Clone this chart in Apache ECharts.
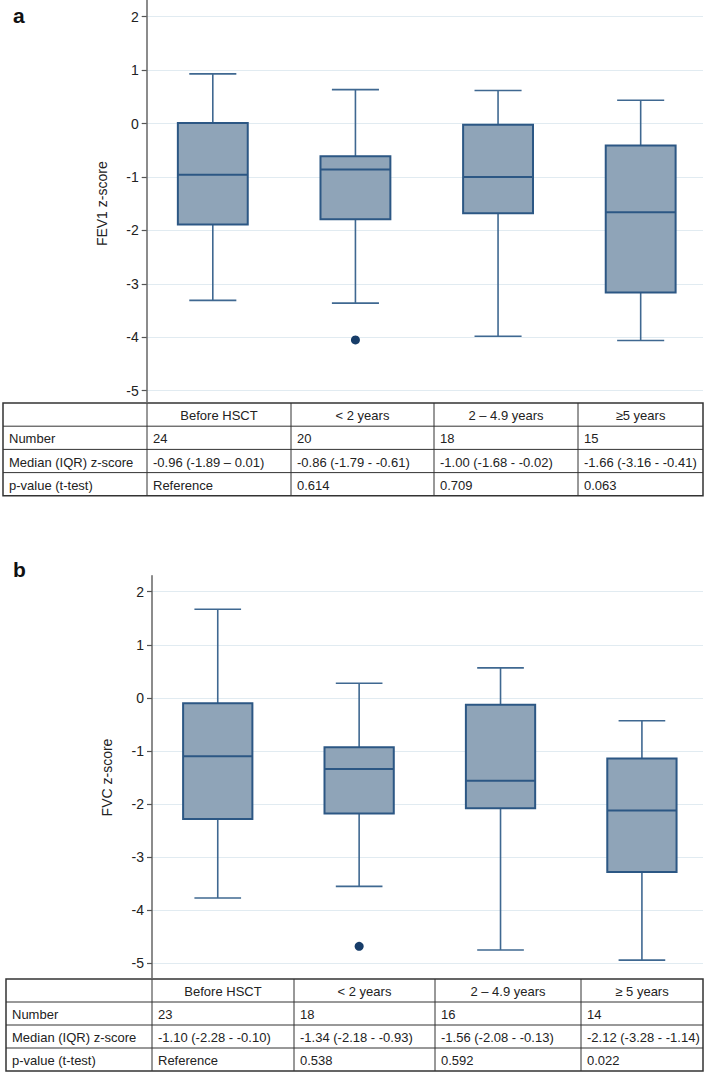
<!DOCTYPE html>
<html>
<head>
<meta charset="utf-8">
<script src="https://cdn.jsdelivr.net/npm/echarts@6/dist/echarts.min.js"></script>
<style>
html,body{margin:0;padding:0;background:#fff;}
#chart{width:704px;height:1077px;}
</style>
</head>
<body>
<div id="chart"></div>
<script>
// ---------- data ----------
const categories = ['Before HSCT', '< 2 years', '2 – 4.9 years', '≥5 years'];
const categoriesB = ['Before HSCT', '< 2 years', '2 – 4.9 years', '≥ 5 years'];
const yTicks = [-5, -4, -3, -2, -1, 0, 1, 2];

const fev1Min    = [-3.31, -3.36, -3.98, -4.06];
const fev1Q1     = [-1.89, -1.79, -1.68, -3.16];
const fev1Median = [-0.96, -0.86, -1.00, -1.66];
const fev1Q3     = [0.01, -0.61, -0.02, -0.41];
const fev1Max    = [0.93, 0.635, 0.62, 0.435];
const fev1Outliers = [[2, -4.05]];

const fvcMin    = [-3.77, -3.55, -4.75, -4.94];
const fvcQ1     = [-2.28, -2.18, -2.08, -3.28];
const fvcMedian = [-1.10, -1.34, -1.56, -2.12];
const fvcQ3     = [-0.10, -0.93, -0.13, -1.14];
const fvcMax    = [1.67, 0.275, 0.565, -0.43];
const fvcOutliers = [[2, -4.68]];

const tableARows = [
  ['Number', '24', '20', '18', '15'],
  ['Median (IQR) z-score', '-0.96 (-1.89 – 0.01)', '-0.86 (-1.79 - -0.61)', '-1.00 (-1.68 - -0.02)', '-1.66 (-3.16 - -0.41)'],
  ['p-value (t-test)', 'Reference', '0.614', '0.709', '0.063']
];
const tableBRows = [
  ['Number', '23', '18', '16', '14'],
  ['Median (IQR) z-score', '-1.10 (-2.28 - -0.10)', '-1.34 (-2.18 - -0.93)', '-1.56 (-2.08 - -0.13)', '-2.12 (-3.28 - -1.14)'],
  ['p-value (t-test)', 'Reference', '0.538', '0.592', '0.022']
];

// ---------- styles ----------
const FONT = "'Liberation Sans', Arial, Helvetica, sans-serif";
const BOX_FILL = '#8fa4b8';
const BOX_STROKE = '#2c5784';
const WHISKER = '#3f6891';
const OUTLIER = '#173d69';

function boxData(mn, q1, md, q3, mx) {
  return mn.map((v, i) => [i + 1, v, q1[i], md[i], q3[i], mx[i]]);
}

function renderBox(params, api) {
  const x = api.value(0);
  const pMin = api.coord([x, api.value(1)]);
  const pQ1 = api.coord([x, api.value(2)]);
  const pMed = api.coord([x, api.value(3)]);
  const pQ3 = api.coord([x, api.value(4)]);
  const pMax = api.coord([x, api.value(5)]);
  const boxW = api.size([0.49, 0])[0];
  const capW = api.size([0.33, 0])[0];
  const cx = pMed[0];
  const wStyle = {stroke: WHISKER, lineWidth: 1.6};
  return {
    type: 'group',
    children: [
      {type: 'line', shape: {x1: cx, y1: pMax[1], x2: cx, y2: pQ3[1]}, style: wStyle},
      {type: 'line', shape: {x1: cx, y1: pQ1[1], x2: cx, y2: pMin[1]}, style: wStyle},
      {type: 'line', shape: {x1: cx - capW / 2, y1: pMax[1], x2: cx + capW / 2, y2: pMax[1]}, style: wStyle},
      {type: 'line', shape: {x1: cx - capW / 2, y1: pMin[1], x2: cx + capW / 2, y2: pMin[1]}, style: wStyle},
      {type: 'rect', shape: {x: cx - boxW / 2, y: pQ3[1], width: boxW, height: pQ1[1] - pQ3[1]},
       style: {fill: BOX_FILL, stroke: BOX_STROKE, lineWidth: 2}},
      {type: 'line', shape: {x1: cx - boxW / 2, y1: pMed[1], x2: cx + boxW / 2, y2: pMed[1]},
       style: {stroke: BOX_STROKE, lineWidth: 2}}
    ]
  };
}

function valueYAxis(gridIndex, name) {
  return {
    type: 'value', gridIndex: gridIndex, min: -5, max: 2, interval: 1,
    name: name, nameLocation: 'middle', nameGap: 38,
    nameTextStyle: {fontFamily: FONT, fontSize: 14, color: '#222'},
    axisLine: {show: false},
    axisTick: {show: true, length: 5, lineStyle: {color: '#555', width: 1.2}},
    axisLabel: {fontFamily: FONT, fontSize: 14, color: '#222', margin: 8},
    splitLine: {show: true, lineStyle: {color: '#e1ebf1', width: 1}}
  };
}
function lineOnlyYAxis(gridIndex) {
  return {
    type: 'value', gridIndex: gridIndex, min: 0, max: 1,
    axisLine: {show: true, lineStyle: {color: '#666', width: 1.5}},
    axisTick: {show: false}, axisLabel: {show: false}, splitLine: {show: false}
  };
}

// table builder (graphic elements)
function buildTable(top, edges, rowH, header, rows) {
  const els = [];
  const nRows = rows.length + 1;
  const left = edges[0], right = edges[edges.length - 1];
  const bottom = top + nRows * rowH;
  els.push({type: 'rect', shape: {x: left, y: top, width: right - left, height: bottom - top},
            style: {fill: null, stroke: '#333', lineWidth: 1.5}});
  for (let r = 1; r < nRows; r++) {
    els.push({type: 'line', shape: {x1: left, y1: top + r * rowH, x2: right, y2: top + r * rowH},
              style: {stroke: '#333', lineWidth: 1}});
  }
  for (let c = 1; c < edges.length - 1; c++) {
    els.push({type: 'line', shape: {x1: edges[c], y1: top, x2: edges[c], y2: bottom},
              style: {stroke: '#333', lineWidth: 1}});
  }
  header.forEach((t, i) => {
    els.push({type: 'text', x: (edges[i + 1] + edges[i + 2]) / 2, y: top + rowH / 2 + 1,
              style: {text: t, fill: '#222', font: '13px ' + FONT, align: 'center', verticalAlign: 'middle'}});
  });
  rows.forEach((row, r) => {
    row.forEach((t, c) => {
      els.push({type: 'text', x: edges[c] + 6, y: top + (r + 1) * rowH + rowH / 2 + 1,
                style: {text: t, fill: '#222', font: '13px ' + FONT, align: 'left', verticalAlign: 'middle'}});
    });
  });
  return els;
}

const chart = echarts.init(document.getElementById('chart'), null, {renderer: 'svg', width: 704, height: 1077});

const option = {
  animation: false,
  backgroundColor: '#fff',
  grid: [
    {left: 146.7, top: 16.7, right: 1, height: 374},
    {left: 146.7, top: 0, width: 10, height: 403},
    {left: 152, top: 591.7, right: 1, height: 371.6},
    {left: 152, top: 575.7, width: 10, height: 403.3}
  ],
  xAxis: [
    {type: 'value', gridIndex: 0, min: 0.5365, max: 4.437, show: false},
    {type: 'value', gridIndex: 1, min: 0, max: 1, show: false},
    {type: 'value', gridIndex: 2, min: 0.535, max: 4.432, show: false},
    {type: 'value', gridIndex: 3, min: 0, max: 1, show: false}
  ],
  yAxis: [
    valueYAxis(0, 'FEV1 z-score'),
    lineOnlyYAxis(1),
    valueYAxis(2, 'FVC z-score'),
    lineOnlyYAxis(3)
  ],
  series: [
    {type: 'custom', xAxisIndex: 0, yAxisIndex: 0, renderItem: renderBox, clip: false,
     encode: {x: 0, y: [1, 2, 3, 4, 5]},
     data: boxData(fev1Min, fev1Q1, fev1Median, fev1Q3, fev1Max)},
    {type: 'scatter', xAxisIndex: 0, yAxisIndex: 0, symbol: 'circle', symbolSize: 9,
     itemStyle: {color: OUTLIER, opacity: 1}, data: fev1Outliers},
    {type: 'custom', xAxisIndex: 2, yAxisIndex: 2, renderItem: renderBox, clip: false,
     encode: {x: 0, y: [1, 2, 3, 4, 5]},
     data: boxData(fvcMin, fvcQ1, fvcMedian, fvcQ3, fvcMax)},
    {type: 'scatter', xAxisIndex: 2, yAxisIndex: 2, symbol: 'circle', symbolSize: 9,
     itemStyle: {color: OUTLIER, opacity: 1}, data: fvcOutliers}
  ],
  graphic: [
    {type: 'text', left: 13, top: 5, style: {text: 'a', font: 'bold 21px ' + FONT, fill: '#111'}},
    {type: 'text', left: 13, top: 559, style: {text: 'b', font: 'bold 21px ' + FONT, fill: '#111'}},
    {type: 'group', children: buildTable(403, [3, 147, 291, 434, 578, 703], 23.2, categories, tableARows)},
    {type: 'group', children: buildTable(979, [6, 152, 294, 435, 581, 703], 23, categoriesB, tableBRows)}
  ]
};
chart.setOption(option);
</script>
</body>
</html>
